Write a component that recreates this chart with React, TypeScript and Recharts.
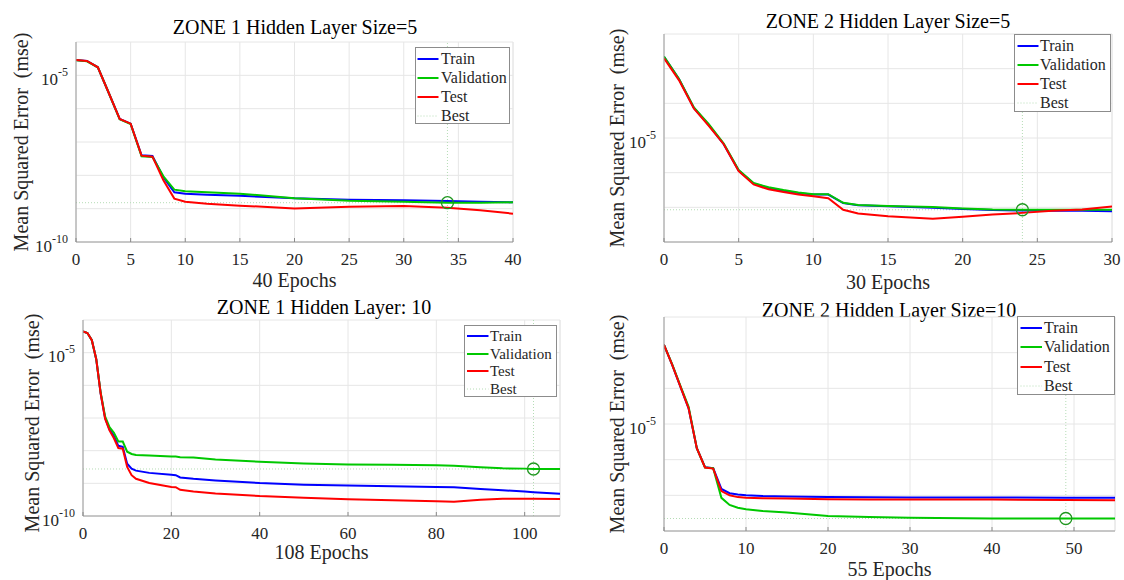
import { LineChart, Line, XAxis, YAxis, CartesianGrid, ReferenceLine, ReferenceDot } from 'recharts';

// ZONE 1, hidden layer size 5
const z1s5Epochs = [0, 1, 2, 3, 4, 5, 6, 7, 8, 9, 10, 12, 15, 20, 25, 30, 34, 37, 40];
const z1s5Train = [2.88e-5, 2.69e-5, 1.74e-5, 2.95e-6, 4.9e-7, 3.55e-7, 3.98e-8, 3.8e-8, 8.7e-9, 3.09e-9, 2.82e-9, 2.63e-9, 2.45e-9, 2.04e-9, 1.86e-9, 1.78e-9, 1.7e-9, 1.62e-9, 1.55e-9];
const z1s5Val = [2.82e-5, 2.63e-5, 1.74e-5, 2.95e-6, 4.79e-7, 3.47e-7, 3.72e-8, 3.55e-8, 9.33e-9, 3.72e-9, 3.31e-9, 3.09e-9, 2.82e-9, 2.04e-9, 1.74e-9, 1.62e-9, 1.51e-9, 1.51e-9, 1.55e-9];
const z1s5Test = [2.88e-5, 2.69e-5, 1.74e-5, 2.95e-6, 4.9e-7, 3.55e-7, 3.89e-8, 3.63e-8, 7.08e-9, 2.0e-9, 1.62e-9, 1.41e-9, 1.23e-9, 1.02e-9, 1.15e-9, 1.2e-9, 1.07e-9, 8.9e-10, 7.08e-10];

// ZONE 2, hidden layer size 5
const z2s5Epochs = [0, 1, 2, 3, 4, 5, 6, 7, 8, 9, 10, 11, 12, 13, 15, 18, 20, 22, 24, 26, 28, 30];
const z2s5Train = [2.19e-3, 5.01e-4, 7.41e-5, 2.34e-5, 6.61e-6, 1.15e-6, 4.9e-7, 3.63e-7, 3.02e-7, 2.57e-7, 2.34e-7, 2.34e-7, 1.32e-7, 1.15e-7, 1.07e-7, 9.77e-8, 8.91e-8, 8.32e-8, 8.13e-8, 7.94e-8, 7.94e-8, 7.76e-8];
const z2s5Val = [2.24e-3, 5.13e-4, 7.59e-5, 2.51e-5, 6.92e-6, 1.2e-6, 5.01e-7, 3.8e-7, 3.16e-7, 2.69e-7, 2.4e-7, 2.4e-7, 1.35e-7, 1.17e-7, 1.1e-7, 1.02e-7, 9.33e-8, 8.71e-8, 8.51e-8, 8.51e-8, 8.51e-8, 8.51e-8];
const z2s5Test = [2.0e-3, 4.68e-4, 7.08e-5, 2.24e-5, 6.61e-6, 1.1e-6, 4.57e-7, 3.31e-7, 2.75e-7, 2.34e-7, 2.09e-7, 1.82e-7, 8.51e-8, 6.61e-8, 5.5e-8, 4.68e-8, 5.37e-8, 6.17e-8, 6.92e-8, 7.94e-8, 8.71e-8, 1.05e-7];

// ZONE 1, hidden layer size 10
const z1s10Epochs = [0, 1, 2, 3, 4, 5, 6, 7, 8, 9, 10, 11, 12, 15, 20, 21, 22, 25, 30, 40, 50, 60, 70, 80, 84, 90, 95, 100, 102, 108];
const z1s10Train = [4.47e-5, 3.98e-5, 2.4e-5, 6.31e-6, 5.62e-7, 1.0e-7, 4.47e-8, 2.82e-8, 1.41e-8, 1.32e-8, 3.98e-9, 2.82e-9, 2.45e-9, 2.09e-9, 1.82e-9, 1.78e-9, 1.51e-9, 1.38e-9, 1.23e-9, 1.02e-9, 9.12e-10, 8.51e-10, 8.13e-10, 7.76e-10, 7.59e-10, 6.76e-10, 6.17e-10, 5.62e-10, 5.37e-10, 4.79e-10];
const z1s10Val = [4.47e-5, 3.98e-5, 2.4e-5, 6.31e-6, 6.03e-7, 1.12e-7, 5.25e-8, 3.55e-8, 1.91e-8, 1.91e-8, 9.33e-9, 7.94e-9, 7.41e-9, 7.08e-9, 6.61e-9, 6.61e-9, 6.31e-9, 6.17e-9, 5.37e-9, 4.57e-9, 4.07e-9, 3.8e-9, 3.72e-9, 3.55e-9, 3.47e-9, 3.09e-9, 2.88e-9, 2.82e-9, 2.75e-9, 2.75e-9];
const z1s10Test = [4.47e-5, 3.98e-5, 2.4e-5, 6.31e-6, 5.62e-7, 9.55e-8, 4.17e-8, 2.4e-8, 1.2e-8, 1.15e-8, 3.16e-9, 1.78e-9, 1.38e-9, 1.02e-9, 7.76e-10, 7.59e-10, 6.31e-10, 5.62e-10, 4.9e-10, 4.07e-10, 3.63e-10, 3.24e-10, 3.02e-10, 2.82e-10, 2.75e-10, 3.16e-10, 3.39e-10, 3.39e-10, 3.39e-10, 3.31e-10];

// ZONE 2, hidden layer size 10
const z2s10Epochs = [0, 1, 2, 3, 4, 5, 6, 7, 8, 9, 10, 12, 15, 20, 25, 30, 40, 49, 55];
const z2s10Train = [1.66e-3, 4.57e-4, 1.12e-4, 2.75e-5, 2.09e-6, 6.17e-7, 5.75e-7, 1.51e-7, 1.15e-7, 1.05e-7, 1.0e-7, 9.55e-8, 9.33e-8, 8.91e-8, 8.8e-8, 8.71e-8, 8.71e-8, 8.51e-8, 8.51e-8];
const z2s10Val = [1.66e-3, 4.68e-4, 1.17e-4, 3.02e-5, 2.09e-6, 6.03e-7, 5.75e-7, 8.51e-8, 5.37e-8, 4.47e-8, 4.07e-8, 3.63e-8, 3.31e-8, 2.63e-8, 2.45e-8, 2.34e-8, 2.24e-8, 2.24e-8, 2.24e-8];
const z2s10Test = [1.66e-3, 4.57e-4, 1.12e-4, 2.75e-5, 2.09e-6, 6.03e-7, 5.62e-7, 1.32e-7, 1.0e-7, 8.91e-8, 8.51e-8, 8.32e-8, 8.13e-8, 7.76e-8, 7.67e-8, 7.59e-8, 7.59e-8, 7.41e-8, 7.24e-8];

// axes
const ticks5 = [0, 5, 10, 15, 20, 25, 30, 35, 40];
const ticks5short = [0, 5, 10, 15, 20, 25, 30];
const ticks20 = [0, 20, 40, 60, 80, 100];
const ticks10 = [0, 10, 20, 30, 40, 50];
const decadesLow = [1e-10, 1e-9, 1e-8, 1e-7, 1e-6, 1e-5, 1e-4];
const decadesHigh = [1e-8, 1e-7, 1e-6, 1e-5, 1e-4, 1e-3, 1e-2];
const labeledExponents = [-10, -5];
const legendNames = ['Train', 'Validation', 'Test', 'Best'];

const FONT = '"Liberation Serif", "Times New Roman", serif';
const TRAIN = '#0000ff';
const VAL = '#00c800';
const TEST = '#ff0000';
const BEST = '#b5dcb5';
const GRID = '#e6e6e6';
const AXIS = '#9a9a9a';
const TXT = '#262626';

const LogTick = (props: any) => {
  const { x, y, payload } = props;
  const exp = Math.round(Math.log10(payload.value));
  if (!labeledExponents.includes(exp)) return <g />;
  return (
    <text x={x - 8} y={y} textAnchor="end" fill={TXT} fontFamily={FONT}>
      <tspan fontSize={17} dy={9.5}>10</tspan>
      <tspan fontSize={12} dy={-9}>{`${exp}`}</tspan>
    </text>
  );
};

const EpochTick = (props: any) => {
  const { x, y, payload } = props;
  return (
    <g>
      <line x1={x} x2={x} y1={y} y2={y - 4} stroke="#8a8a8a" />
      <text x={x} y={y + 22.7} textAnchor="middle" fontSize={17} fill={TXT} fontFamily={FONT}>
        {payload.value}
      </text>
    </g>
  );
};

type Box = { left: number; top: number; right: number; bottom: number };
type LegendBox = { left: number; top: number; width: number; height: number; rows: number[]; line: [number, number]; textX: number; fontSize: number };

type PanelProps = {
  title: string;
  xLabel: string;
  epochs: number[];
  train: number[];
  validation: number[];
  test: number[];
  bestEpoch: number;
  bestValue: number;
  xMax: number;
  xTicks: number[];
  yTicks: number[];
  plot: Box;
  titlePos: [number, number];
  xLabelY: number;
  yLabelPos: [number, number];
  legend: LegendBox;
};

const Panel = (p: PanelProps) => {
  const rows = p.epochs.map((e, i) => ({ epoch: e, train: p.train[i], validation: p.validation[i], test: p.test[i] }));
  const plotW = p.plot.right - p.plot.left;
  const plotH = p.plot.bottom - p.plot.top;
  const colors = [TRAIN, VAL, TEST, BEST];
  return (
    <>
      <div style={{ position: 'absolute', left: p.titlePos[0], top: p.titlePos[1], transform: 'translate(-50%,-50%)', fontSize: 20, lineHeight: 1, whiteSpace: 'nowrap', color: '#000' }}>
        {p.title}
      </div>
      <div style={{ position: 'absolute', left: p.plot.left - 60, top: p.plot.top - 4 }}>
        <LineChart width={plotW + 80} height={plotH + 34} data={rows} margin={{ top: 4, right: 20, left: 0, bottom: 0 }}>
          <CartesianGrid stroke={GRID} />
          <XAxis
            dataKey="epoch"
            type="number"
            domain={[0, p.xMax]}
            ticks={p.xTicks}
            interval={0}
            allowDataOverflow
            height={30}
            tickSize={0}
            tickMargin={0}
            stroke={AXIS}
            tick={<EpochTick />}
          />
          <YAxis
            type="number"
            scale="log"
            domain={[p.yTicks[0], p.yTicks[p.yTicks.length - 1]]}
            ticks={p.yTicks}
            interval={0}
            allowDataOverflow
            width={60}
            tickSize={0}
            tickMargin={0}
            stroke={AXIS}
            tick={<LogTick />}
          />
          <ReferenceLine x={p.xMax} stroke={GRID} />
          <ReferenceLine x={p.bestEpoch} stroke={BEST} strokeDasharray="1 2" />
          <ReferenceLine y={p.bestValue} stroke={BEST} strokeDasharray="1 2" />
          <Line type="linear" dataKey="train" stroke={TRAIN} strokeWidth={2} dot={false} isAnimationActive={false} />
          <Line type="linear" dataKey="validation" stroke={VAL} strokeWidth={2} dot={false} isAnimationActive={false} />
          <Line type="linear" dataKey="test" stroke={TEST} strokeWidth={2} dot={false} isAnimationActive={false} />
          <ReferenceDot x={p.bestEpoch} y={p.bestValue} r={6} fill="none" stroke="#1e961e" strokeWidth={1.3} />
        </LineChart>
      </div>
      <div style={{ position: 'absolute', left: (p.plot.left + p.plot.right) / 2, top: p.xLabelY, transform: 'translate(-50%,-50%)', fontSize: 20, lineHeight: 1, whiteSpace: 'nowrap', color: TXT }}>
        {p.xLabel}
      </div>
      <div style={{ position: 'absolute', left: p.yLabelPos[0], top: p.yLabelPos[1], transform: 'translate(-50%,-50%) rotate(-90deg)', fontSize: 20, lineHeight: 1, whiteSpace: 'pre', color: TXT }}>
        {'Mean Squared Error  (mse)'}
      </div>
      <div style={{ position: 'absolute', left: p.legend.left, top: p.legend.top, width: p.legend.width, height: p.legend.height, background: '#fff', border: '1px solid #8c8c8c', boxSizing: 'border-box' }}>
        {legendNames.map((name, i) => (
          <div key={name} style={{ position: 'absolute', left: 0, top: p.legend.rows[i], width: '100%', height: 0 }}>
            <svg width={p.legend.line[1] + 2} height={4} style={{ position: 'absolute', left: 0, top: -2 }}>
              <line x1={p.legend.line[0]} x2={p.legend.line[1]} y1={2} y2={2} stroke={colors[i]} strokeWidth={i === 3 ? 1 : 2} strokeDasharray={i === 3 ? '1 2' : undefined} />
            </svg>
            <div style={{ position: 'absolute', left: p.legend.textX, top: 0, transform: 'translateY(-50%)', fontSize: p.legend.fontSize, lineHeight: 1, whiteSpace: 'nowrap', color: TXT }}>
              {name}
            </div>
          </div>
        ))}
      </div>
    </>
  );
};

export default function App() {
  return (
    <div style={{ position: 'absolute', left: 0, top: 0, width: 1124, height: 580, overflow: 'hidden', background: '#fff', fontFamily: FONT }}>
      <Panel
        title="ZONE 1 Hidden Layer Size=5"
        xLabel="40 Epochs"
        epochs={z1s5Epochs}
        train={z1s5Train}
        validation={z1s5Val}
        test={z1s5Test}
        bestEpoch={34}
        bestValue={1.51e-9}
        xMax={40}
        xTicks={ticks5}
        yTicks={decadesLow}
        plot={{ left: 76, top: 42, right: 513, bottom: 242 }}
        titlePos={[295, 27]}
        xLabelY={280}
        yLabelPos={[21, 142]}
        legend={{ left: 415, top: 47, width: 95, height: 77, rows: [10.6, 29.6, 48.6, 67.6], line: [1.5, 22.5], textX: 25, fontSize: 16 }}
      />
      <Panel
        title="ZONE 2 Hidden Layer Size=5"
        xLabel="30 Epochs"
        epochs={z2s5Epochs}
        train={z2s5Train}
        validation={z2s5Val}
        test={z2s5Test}
        bestEpoch={24}
        bestValue={8.51e-8}
        xMax={30}
        xTicks={ticks5short}
        yTicks={decadesHigh}
        plot={{ left: 664, top: 34, right: 1112, bottom: 242 }}
        titlePos={[888, 21]}
        xLabelY={281.5}
        yLabelPos={[617, 138]}
        legend={{ left: 1014, top: 34, width: 97, height: 78, rows: [11.4, 30, 49, 68], line: [2.5, 23.5], textX: 25, fontSize: 16 }}
      />
      <Panel
        title="ZONE 1 Hidden Layer: 10"
        xLabel="108 Epochs"
        epochs={z1s10Epochs}
        train={z1s10Train}
        validation={z1s10Val}
        test={z1s10Test}
        bestEpoch={102}
        bestValue={2.75e-9}
        xMax={108}
        xTicks={ticks20}
        yTicks={decadesLow}
        plot={{ left: 83, top: 320, right: 560, bottom: 516 }}
        titlePos={[324, 306.7]}
        xLabelY={551.5}
        yLabelPos={[31.5, 422.5]}
        legend={{ left: 464, top: 325, width: 93, height: 72, rows: [10, 27.7, 45, 62.7], line: [2, 23.5], textX: 25, fontSize: 15 }}
      />
      <Panel
        title="ZONE 2 Hidden Layer Size=10"
        xLabel="55 Epochs"
        epochs={z2s10Epochs}
        train={z2s10Train}
        validation={z2s10Val}
        test={z2s10Test}
        bestEpoch={49}
        bestValue={2.24e-8}
        xMax={55}
        xTicks={ticks10}
        yTicks={decadesHigh}
        plot={{ left: 664, top: 317, right: 1115, bottom: 531 }}
        titlePos={[889, 310]}
        xLabelY={569}
        yLabelPos={[617, 424]}
        legend={{ left: 1017, top: 316, width: 98, height: 79, rows: [11, 30.3, 49.6, 69], line: [2.5, 24], textX: 26, fontSize: 16 }}
      />
    </div>
  );
}
